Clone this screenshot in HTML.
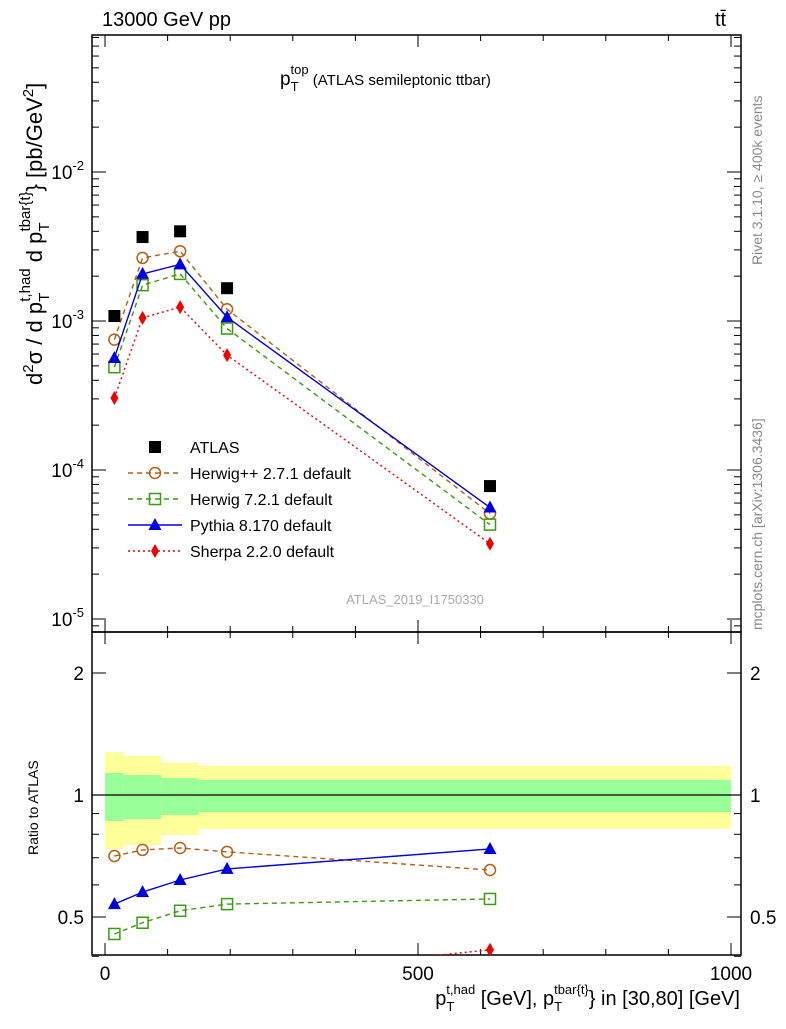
<!DOCTYPE html>
<html><head><meta charset="utf-8"><style>
body{margin:0;background:#fff}
svg{font-family:"Liberation Sans",sans-serif}
</style></head><body>
<svg id="c" width="786" height="1024" viewBox="0 0 786 1024" xmlns="http://www.w3.org/2000/svg">
<text x="102" y="26" font-size="20">13000 GeV pp</text>
<text x="715" y="26" font-size="20">tt̄</text>
<text x="280" y="85" font-size="19">p<tspan font-size="13" dy="6">T</tspan><tspan font-size="13" dx="-8" dy="-17">top</tspan><tspan font-size="15" dy="11"> (ATLAS semileptonic ttbar)</tspan></text>
<text x="415" y="604" font-size="13" fill="#aaa" text-anchor="middle">ATLAS_2019_I1750330</text>
<text transform="translate(762,265) rotate(-90)" font-size="14" fill="#888">Rivet 3.1.10, ≥ 400k events</text>
<text transform="translate(762,630) rotate(-90)" font-size="14" fill="#888">mcplots.cern.ch [arXiv:1306.3436]</text>
<text transform="translate(42,385) rotate(-90)" font-size="22">d<tspan font-size="15" dy="-9">2</tspan><tspan dy="9">σ / d p</tspan><tspan font-size="15" dy="7">T</tspan><tspan font-size="15" dx="-9" dy="-19">t,had</tspan><tspan dy="12"> d p</tspan><tspan font-size="15" dy="7">T</tspan><tspan font-size="15" dx="-9" dy="-19">tbar{t}</tspan><tspan dy="12">} [pb/GeV</tspan><tspan font-size="15" dy="-9">2</tspan><tspan dy="9">]</tspan></text>
<text transform="translate(38,855) rotate(-90)" font-size="14">Ratio to ATLAS</text>
<text x="740" y="1005" font-size="20" text-anchor="end">p<tspan font-size="13" dy="6">T</tspan><tspan font-size="13" dx="-8" dy="-17">t,had</tspan><tspan dy="11"> [GeV], p</tspan><tspan font-size="13" dy="6">T</tspan><tspan font-size="13" dx="-8" dy="-17">tbar{t}</tspan><tspan dy="11">} in [30,80] [GeV]</tspan></text>
<g id="main"></g>
</svg>
<script>
const xVals=[15,60,120,195,615];
const atlas=[1.08e-3,3.66e-3,4.0e-3,1.66e-3,7.8e-5];
const herwigpp=[7.5e-4,2.65e-3,2.94e-3,1.2e-3,5.1e-5];
const herwig7=[4.9e-4,1.74e-3,2.07e-3,8.9e-4,4.3e-5];
const pythia=[5.65e-4,2.07e-3,2.4e-3,1.06e-3,5.6e-5];
const sherpa=[3.04e-4,1.05e-3,1.24e-3,5.9e-4,3.2e-5];
const rHerwigpp=[0.707,0.732,0.74,0.724,0.653];
const rHerwig7=[0.454,0.484,0.518,0.538,0.554];
const rPythia=[0.538,0.576,0.617,0.657,0.736];
const rSherpa=[0.28,0.287,0.31,0.355,0.415];
const binEdges=[0,30,90,150,250,1000];
const yelHi=[1.276,1.248,1.2,1.18,1.18];
const yelLo=[0.736,0.753,0.797,0.825,0.825];
const grnHi=[1.133,1.12,1.1,1.09,1.09];
const grnLo=[0.863,0.873,0.893,0.908,0.908];
const xTicks=[0,500,1000];
const yDecades=[-5,-4,-3,-2];
const ratioTicks=[0.5,1,2];

const NS="http://www.w3.org/2000/svg";
const g=document.getElementById('main');
const X0=92,X1=741,T=35,M=632,B=955;
const xs=v=>105+v*0.626;
const ys=v=>172-(Math.log10(v)+2)*149;
const rs=v=>795-Math.log2(v)*122;
function el(t,a,p){const e=document.createElementNS(NS,t);for(const k in a)e.setAttribute(k,a[k]);(p||g).appendChild(e);return e;}

for(let i=0;i<yelHi.length;i++){
 const b1=el('rect',{x:xs(binEdges[i]),y:rs(yelHi[i]),width:xs(binEdges[i+1])-xs(binEdges[i]),height:rs(yelLo[i])-rs(yelHi[i]),fill:'#ffff99'});
 
 
 const b2=el('rect',{x:xs(binEdges[i]),y:rs(grnHi[i]),width:xs(binEdges[i+1])-xs(binEdges[i]),height:rs(grnLo[i])-rs(grnHi[i]),fill:'#99ff99'});
 
 
}
el('line',{x1:X0,x2:X1,y1:rs(1),y2:rs(1),stroke:'#000','stroke-width':1.2});

const f1=el('rect',{x:X0,y:T,width:X1-X0,height:M-T,fill:'none',stroke:'#000','stroke-width':1.5});


const f2=el('rect',{x:X0,y:M,width:X1-X0,height:B-M,fill:'none',stroke:'#000','stroke-width':1.5});



for(let v=0;v<=1000;v+=100){
 const big=v%500===0, L=big?12:6;
 for(const [a,b] of [[T,1],[M,-1],[M,1],[B,-1]]){
  el('line',{x1:xs(v),x2:xs(v),y1:a,y2:a+b*L,stroke:'#000'});
 }
}
xTicks.forEach(v=>{const t=el('text',{x:xs(v),y:980,'font-size':19,'text-anchor':'middle'});t.textContent=v;
 
 });
for(let d=-6;d<=-1;d++){for(let m=1;m<=9;m++){const v=m*Math.pow(10,d);const y=ys(v);if(y<T||y>M)continue;const L=m===1?14:7;
 el('line',{x1:X0,x2:X0+L,y1:y,y2:y,stroke:'#000'});el('line',{x1:X1,x2:X1-L,y1:y,y2:y,stroke:'#000'});}}
yDecades.forEach(d=>{const t=el('text',{x:84,y:ys(Math.pow(10,d))+7,'font-size':19,'text-anchor':'end'});
 t.innerHTML='10<tspan font-size="13" dy="-9">'+(d)+'</tspan>'.replace('-','−');
 
 });
[0.4,0.5,0.6,0.7,0.8,0.9,1,2].forEach(v=>{const y=rs(v);const L=(v===0.5||v===1||v===2)?14:7;
 el('line',{x1:X0,x2:X0+L,y1:y,y2:y,stroke:'#000'});el('line',{x1:X1,x2:X1-L,y1:y,y2:y,stroke:'#000'});});
ratioTicks.forEach(v=>{for(const [x,a] of [[84,'end'],[750,'start']]){const t=el('text',{x:x,y:rs(v)+7,'font-size':19,'text-anchor':a});t.textContent=v;
 
 }});

function marker(type,x,y,col,parent){
 if(type==='sq')return el('rect',{x:x-6,y:y-6,width:12,height:12,fill:'#000'},parent);
 if(type==='circ')return el('circle',{cx:x,cy:y,r:5.5,fill:'none',stroke:col,'stroke-width':1.5},parent);
 if(type==='osq')return el('rect',{x:x-5.5,y:y-5.5,width:11,height:11,fill:'none',stroke:col,'stroke-width':1.5},parent);
 if(type==='tri')return el('path',{d:`M${x},${y-7}L${x+6.5},${y+5}L${x-6.5},${y+5}Z`,fill:col},parent);
 if(type==='dia')return el('path',{d:`M${x},${y-7}L${x+4},${y}L${x},${y+7}L${x-4},${y}Z`,fill:col},parent);
}
const series=[
 {name:'herwigpp',vals:herwigpp,r:rHerwigpp,col:'#b35f16',dash:'5,4',m:'circ'},
 {name:'herwig7',vals:herwig7,r:rHerwig7,col:'#3a9a10',dash:'5,4',m:'osq'},
 {name:'pythia',vals:pythia,r:rPythia,col:'#0000dd',dash:'',m:'tri'},
 {name:'sherpa',vals:sherpa,r:rSherpa,col:'#ee0000',dash:'2,3',m:'dia'}];
const clipT=el('clipPath',{id:'cr'});el('rect',{x:X0,y:M,width:X1-X0,height:B-M},clipT);
series.forEach(s=>{
 const p=el('polyline',{points:xVals.map((x,i)=>xs(x)+','+ys(s.vals[i])).join(' '),fill:'none',stroke:s.col,'stroke-width':1.4,'stroke-dasharray':s.dash});
 
 
 xVals.forEach((x,i)=>{const m=marker(s.m,xs(x),ys(s.vals[i]),s.col);
  
  });
 const gr=el('g',{'clip-path':'url(#cr)'});
 const pts=xVals.map((x,i)=>s.r[i]==null?null:[xs(x),rs(s.r[i])]).filter(a=>a);
 const rp=el('polyline',{points:pts.map(a=>a.join(',')).join(' '),fill:'none',stroke:s.col,'stroke-width':1.4,'stroke-dasharray':s.dash},gr);
 
 
 pts.forEach(a=>{const m=marker(s.m,a[0],a[1],s.col,gr);
  
  });
});
xVals.forEach((x,i)=>{const m=marker('sq',xs(x),ys(atlas[i]));
 
 });

const leg=[['ATLAS','#000','','sq'],['Herwig++ 2.7.1 default','#b35f16','5,4','circ'],['Herwig 7.2.1 default','#3a9a10','5,4','osq'],['Pythia 8.170 default','#0000dd','','tri'],['Sherpa 2.2.0 default','#ee0000','2,3','dia']];
leg.forEach((l,i)=>{const y=447+i*26;const lg=el('g',{});
 
 
 if(i>0)el('line',{x1:128,x2:182,y1:y,y2:y,stroke:l[1],'stroke-width':1.4,'stroke-dasharray':l[2]},lg);
 marker(l[3],155,y,l[1],lg);
 const t=el('text',{x:190,y:y+6,'font-size':16},lg);t.textContent=l[0];});
</script>
</body></html>
